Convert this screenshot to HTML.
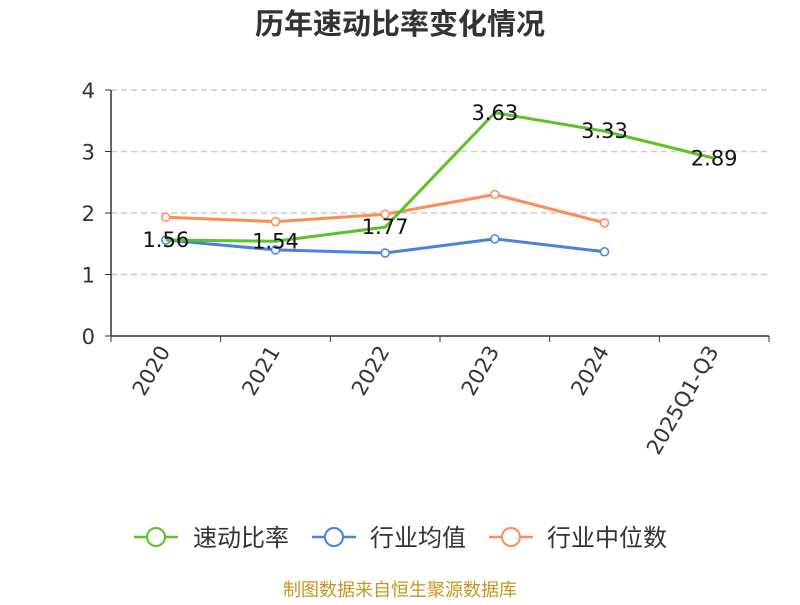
<!DOCTYPE html>
<html><head><meta charset="utf-8"><style>
body{margin:0;background:#fff;}
svg text{font-family:"DejaVu Sans","Noto Sans CJK SC",sans-serif;}
</style></head><body>
<svg id="c" width="800" height="600" xmlns="http://www.w3.org/2000/svg">
<text x="400" y="34" text-anchor="middle" font-size="29" font-weight="bold" fill="#333">历年速动比率变化情况</text>
<g id="grid"></g><g id="axes"></g><g id="series"></g>
<g>
<g><line x1="134" y1="537" x2="178" y2="537" stroke="#5cc22a" stroke-width="2.5"/><circle cx="156" cy="537" r="9" fill="#fff" stroke="#5cc22a" stroke-width="2"/><text x="193" y="546" font-size="24" fill="#333">速动比率</text></g>
<g><line x1="312" y1="537" x2="356" y2="537" stroke="#4a80e0" stroke-width="2.5"/><circle cx="334" cy="537" r="9" fill="#fff" stroke="#4a80e0" stroke-width="2"/><text x="370" y="546" font-size="24" fill="#333">行业均值</text></g>
<g><line x1="489" y1="537" x2="533" y2="537" stroke="#ff8c55" stroke-width="2.5"/><circle cx="511" cy="537" r="9" fill="#fff" stroke="#ff8c55" stroke-width="2"/><text x="547" y="546" font-size="24" fill="#333">行业中位数</text></g>
</g>
<text x="400" y="596" text-anchor="middle" font-size="18" fill="#c8961e">制图数据来自恒生聚源数据库</text>
</svg>
<script>
const categories=["2020","2021","2022","2023","2024","2025Q1-Q3"];
const quickRatio=[1.56,1.54,1.77,3.63,3.33,2.89];
const industryMean=[1.56,1.40,1.35,1.58,1.37];
const industryMedian=[1.93,1.86,1.98,2.30,1.84];
const yTicks=[0,1,2,3,4];
const NS="http://www.w3.org/2000/svg";
const x0=111,x1=769,yb=336,yt=90,ymax=4;
const bw=(x1-x0)/categories.length;
const X=i=>x0+bw*(i+0.5);
const Y=v=>yb-(v/ymax)*(yb-yt);
function mk(tag,attrs,parent,text){const e=document.createElementNS(NS,tag);for(const k in attrs)e.setAttribute(k,attrs[k]);if(text!==undefined)e.textContent=text;document.getElementById(parent).appendChild(e);return e;}
yTicks.forEach(t=>{
 if(t>0){const g=mk('line',{x1:x0,x2:x1,y1:Y(t),y2:Y(t),stroke:'#ccc','stroke-dasharray':'6,4','stroke-width':1.5},'grid');
 
 }
 const tk=mk('line',{x1:x0-6,x2:x0,y1:Y(t),y2:Y(t),stroke:'#333'},'axes');
 
 
 const l=mk('text',{x:x0-16,y:Y(t)+8,'text-anchor':'end','font-size':21,fill:'#333'},'axes',t);
 
 
});
const ya=mk('line',{x1:x0,x2:x0,y1:yt,y2:yb,stroke:'#333','stroke-width':1.5},'axes');


const xa=mk('line',{x1:x0,x2:x1,y1:yb,y2:yb,stroke:'#333','stroke-width':1.5},'axes');


for(let i=0;i<=categories.length;i++){const t=mk('line',{x1:x0+bw*i,x2:x0+bw*i,y1:yb,y2:yb+6,stroke:'#333'},'axes');

}
categories.forEach((c,i)=>{const l=mk('text',{x:X(i)+5,y:yb+15,'text-anchor':'end','font-size':21,fill:'#333',transform:`rotate(-60 ${X(i)+5} ${yb+15})`},'axes',c);

});
function series(data,color,name,dots,labels){
 const p=mk('polyline',{points:data.map((v,i)=>X(i)+','+Y(v)).join(' '),fill:'none',stroke:color,'stroke-width':3},'series');
 
 
 data.forEach((v,i)=>{
  if(dots){const c=mk('circle',{cx:X(i),cy:Y(v),r:4,fill:'#fff',stroke:color,'stroke-width':1.5},'series');
  
  }
  if(labels){const t=mk('text',{x:X(i),y:Y(v)+7,'text-anchor':'middle','font-size':21,fill:'#111'},'series',v.toFixed(2));
  
  }
 });
}
series(industryMean,'#4a80e0','industry-mean',true,false);
series(industryMedian,'#ff8c55','industry-median',true,false);
series(quickRatio,'#5cc22a','quick-ratio',false,true);
</script>
</body></html>
